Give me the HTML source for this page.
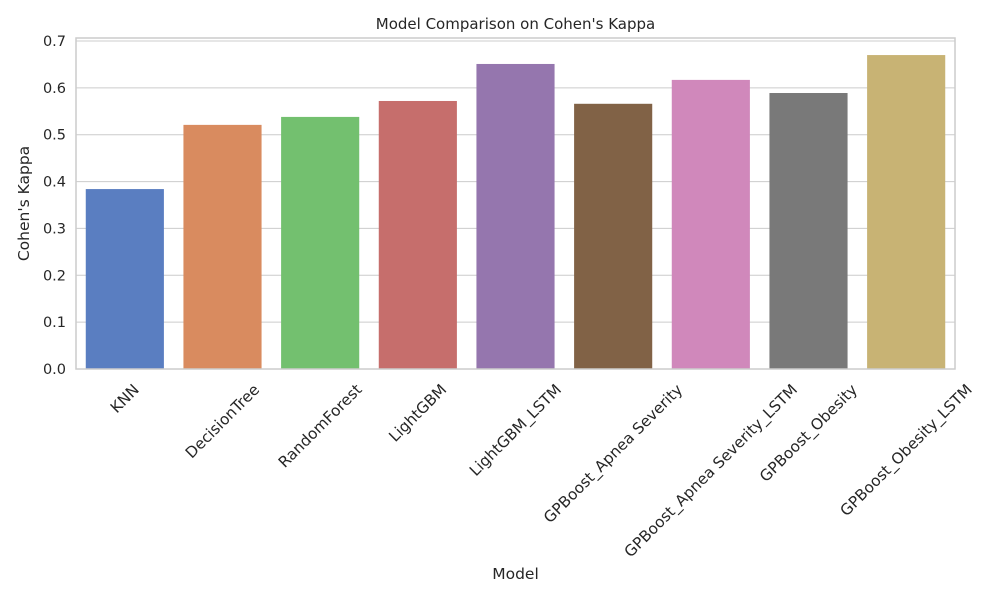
<!DOCTYPE html>
<html><head><meta charset="utf-8"><style>
body{margin:0;background:#fff;}
svg text{font-family:"DejaVu Sans","Liberation Sans",sans-serif;fill:#262626;}
</style></head><body>
<svg width="1000" height="600">
<g id="g"></g>
</svg>
<script>
const categories=["KNN","DecisionTree","RandomForest","LightGBM","LightGBM_LSTM","GPBoost_Apnea Severity","GPBoost_Apnea Severity_LSTM","GPBoost_Obesity","GPBoost_Obesity_LSTM"];
const values=[0.384,0.521,0.538,0.572,0.651,0.566,0.617,0.589,0.670];
const colors=["#5a7ec1","#d98b5f","#73c06f","#c66e6c","#9576ae","#816246","#d088bb","#797979","#c8b374"];
const yTicks=[0,0.1,0.2,0.3,0.4,0.5,0.6,0.7];
const L=76,R=955,T=38,B=369;
const y=v=>B-v*(B-41)/0.7;
const step=(R-L)/categories.length;
const x=i=>L+step*(i+0.5);
const g=document.getElementById('g');
const NS="http://www.w3.org/2000/svg";
function mk(t,a,txt){const e=document.createElementNS(NS,t);for(const k in a)e.setAttribute(k,a[k]);if(txt!==undefined)e.textContent=txt;g.appendChild(e);return e;}
yTicks.forEach(v=>{
 const l=mk('line',{x1:L,x2:R,y1:y(v),y2:y(v),stroke:'#cccccc','stroke-width':1});
 
 
 const t=mk('text',{x:L-10,y:y(v)+5,'text-anchor':'end','font-size':14.5},v.toFixed(1));
 
 
});
categories.forEach((c,i)=>{
 const w=step*0.8;
 const r=mk('rect',{x:x(i)-w/2,y:y(values[i]),width:w,height:B-y(values[i]),fill:colors[i]});
 
 
 const t=mk('text',{'text-anchor':'middle','font-size':15.3},c);
 
 
 const tw=t.getComputedTextLength();
 const cy=B+12+(tw+17)*0.7071/2;
 t.setAttribute('transform',`translate(${x(i)},${cy}) rotate(-45) translate(0,5)`);
});
const f=mk('rect',{x:L,y:T,width:R-L,height:B-T,fill:'none',stroke:'#cccccc','stroke-width':1.5});


const ti=mk('text',{x:(L+R)/2,y:29,'text-anchor':'middle','font-size':15},"Model Comparison on Cohen's Kappa");


const xl=mk('text',{x:(L+R)/2,y:579,'text-anchor':'middle','font-size':15.5},"Model");


const yl=mk('text',{transform:`translate(29,${(T+B)/2}) rotate(-90)`,'text-anchor':'middle','font-size':15.5},"Cohen's Kappa");


</script>
</body></html>
